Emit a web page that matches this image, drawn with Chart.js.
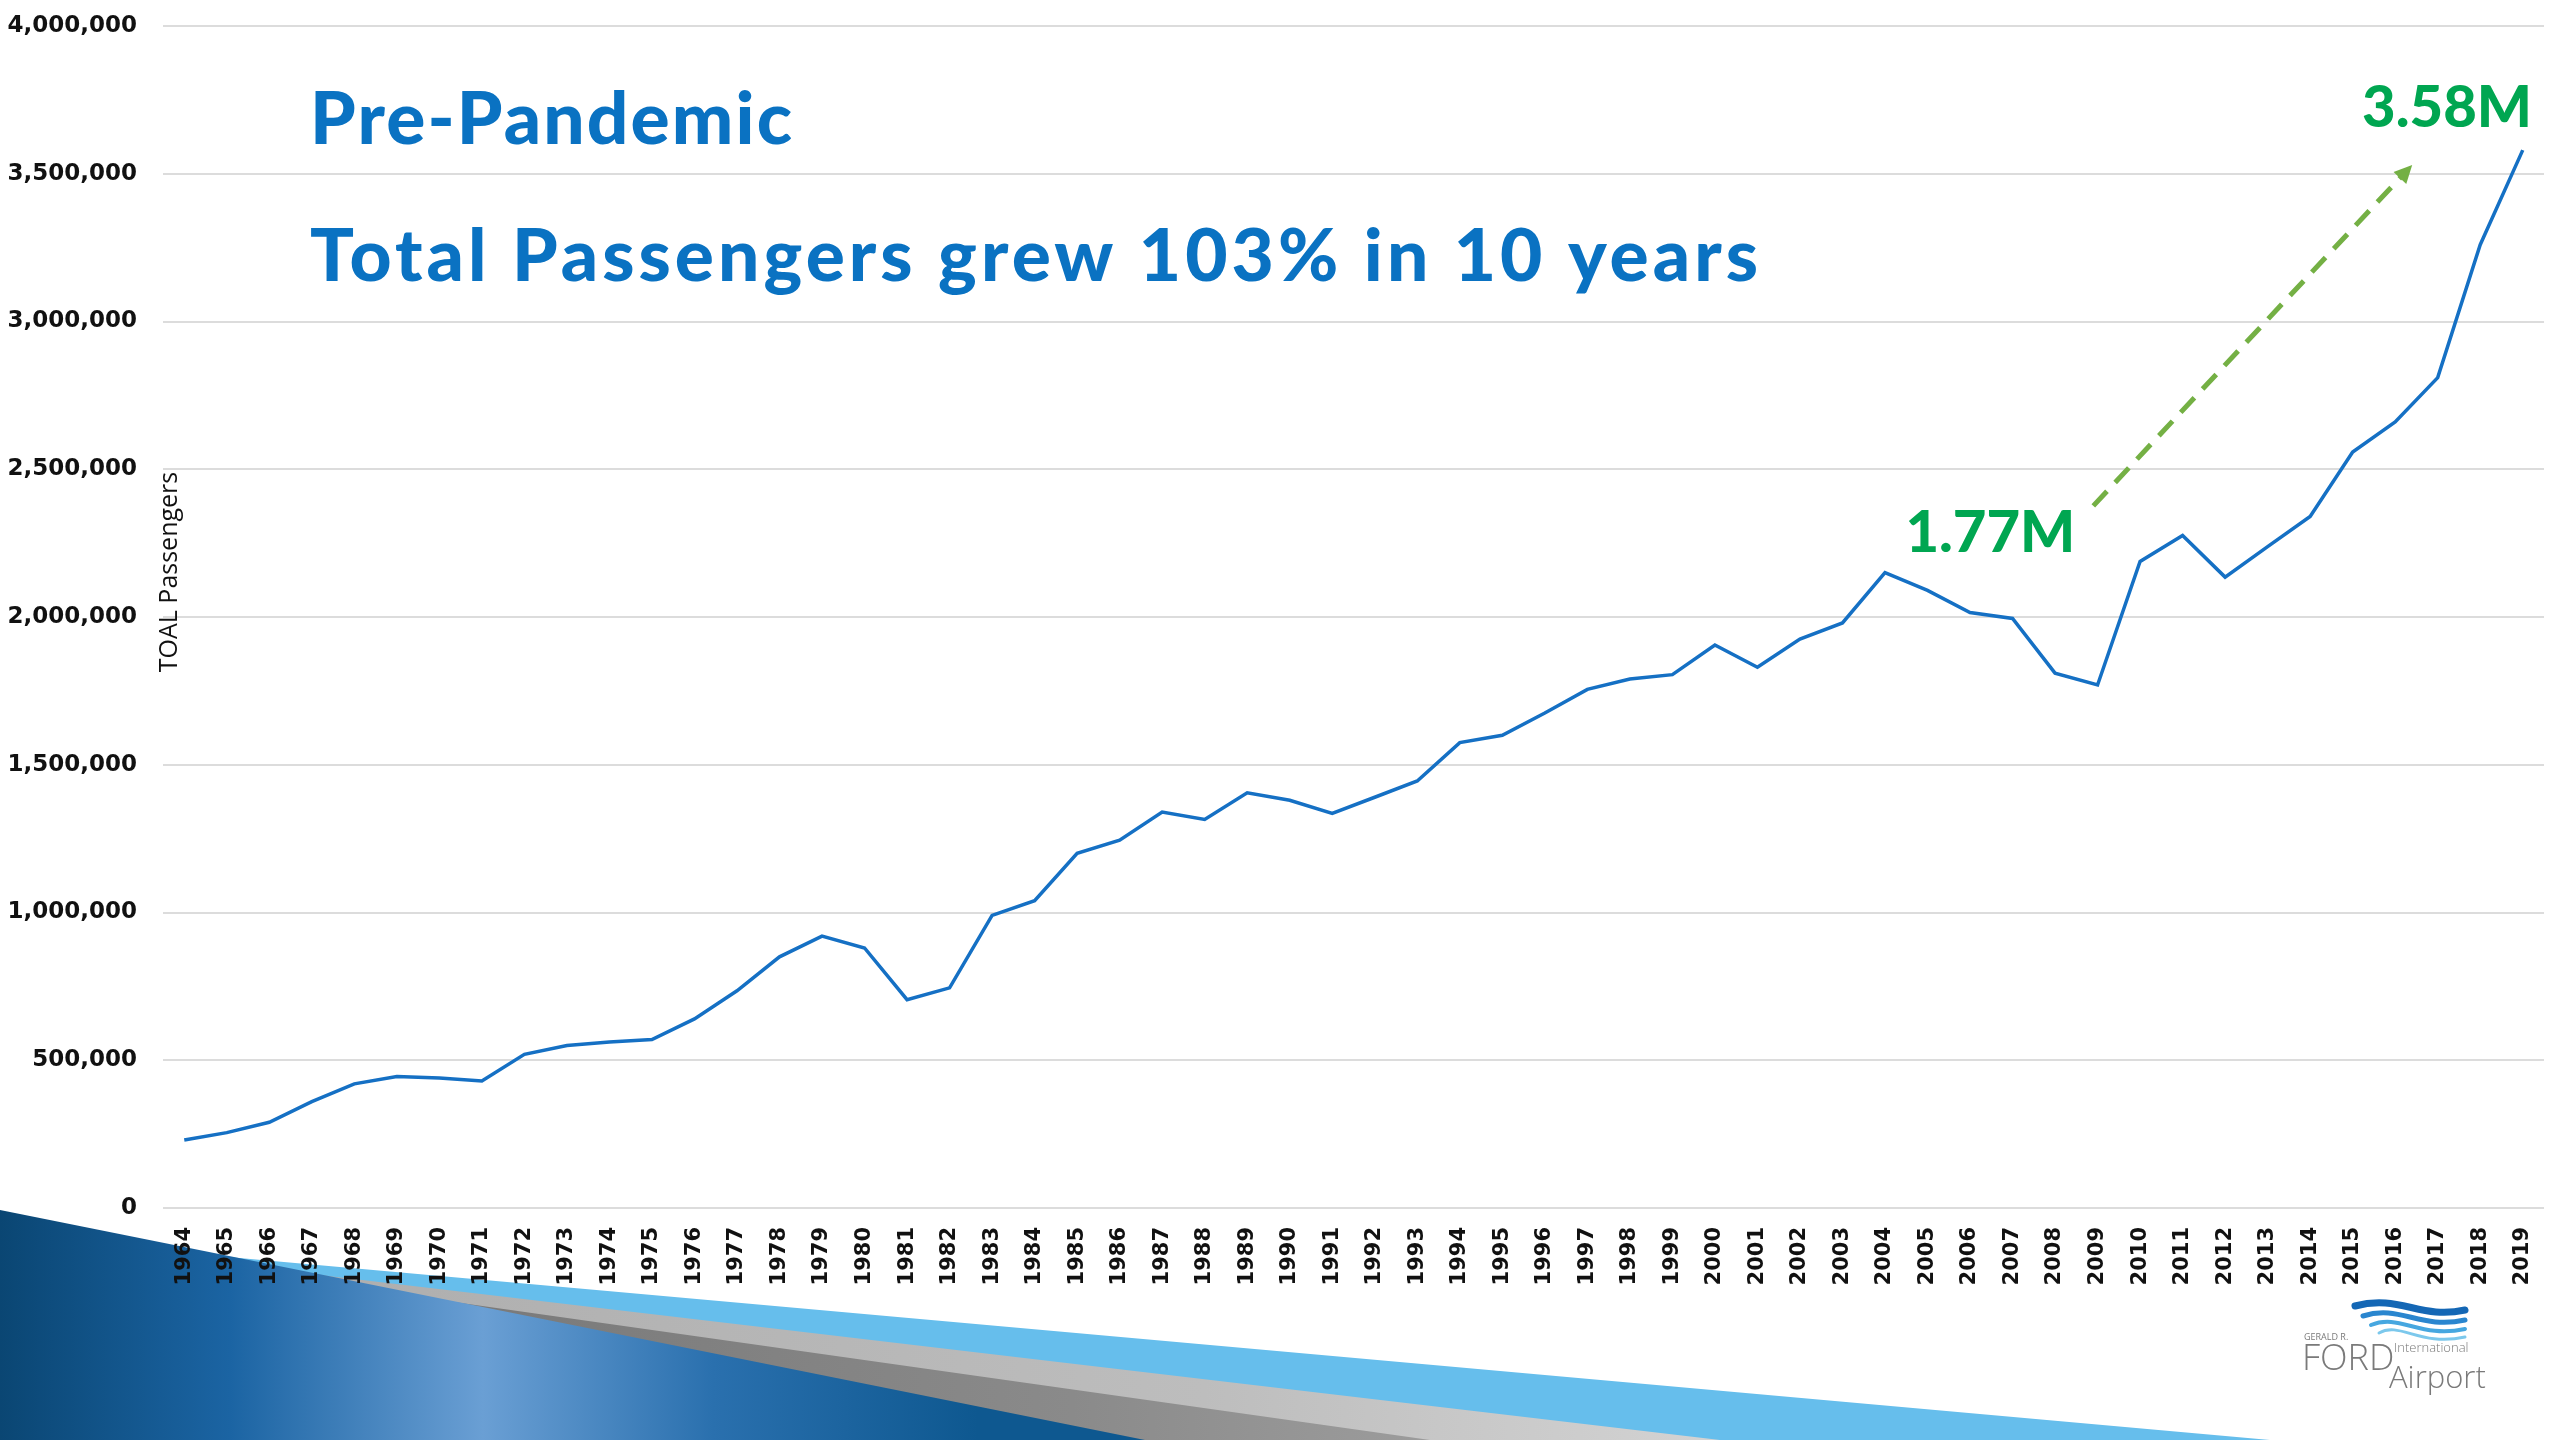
<!DOCTYPE html>
<html>
<head>
<meta charset="utf-8">
<script src="https://cdn.jsdelivr.net/npm/chart.js@4.4.0/dist/chart.umd.min.js"></script>
<style>
html,body{margin:0;padding:0;background:#fff;}
#wrap{width:2560px;height:1440px;position:relative;overflow:hidden;}
</style>
</head>
<body>
<div id="wrap"><canvas id="c" width="2560" height="1440"></canvas></div>
<script>
// ---------- data ----------
const years = ["1964","1965","1966","1967","1968","1969","1970","1971","1972","1973",
  "1974","1975","1976","1977","1978","1979","1980","1981","1982","1983",
  "1984","1985","1986","1987","1988","1989","1990","1991","1992","1993",
  "1994","1995","1996","1997","1998","1999","2000","2001","2002","2003",
  "2004","2005","2006","2007","2008","2009","2010","2011","2012","2013",
  "2014","2015","2016","2017","2018","2019"];
const passengers = [230000,255000,290000,360000,420000,445000,440000,430000,520000,550000,
  562000,570000,640000,735000,850000,920000,880000,705000,745000,990000,
  1040000,1200000,1245000,1340000,1315000,1405000,1380000,1335000,1390000,1445000,
  1575000,1600000,1675000,1755000,1790000,1805000,1905000,1830000,1925000,1980000,
  2150000,2090000,2015000,1995000,1810000,1770000,2188000,2276000,2135000,2238000,
  2340000,2558000,2660000,2810000,3260000,3580000];
const yTickValues = [0,500000,1000000,1500000,2000000,2500000,3000000,3500000,4000000];
const titleLines = ["Pre-Pandemic","Total Passengers grew 103% in 10 years"];
const yAxisTitle = "TOAL Passengers";
const startLabel = "1.77M";
const endLabel = "3.58M";
// arrow endpoints in data terms (year, passengers)
const arrowStart = [2008.9, 2376000];
const arrowEnd = [2016.4, 3530000];

// ---------- helpers ----------
function xPix(chart, year){
  const xs = chart.scales.x;
  const f = year - Number(years[0]);
  const i0 = Math.floor(f), i1 = Math.min(i0+1, years.length-1);
  const p0 = xs.getPixelForValue(i0), p1 = xs.getPixelForValue(i1);
  return p0 + (p1-p0)*(f-i0);
}
function fitText(ctx, text, x, y, targetW){
  const w = ctx.measureText(text).width;
  if ('letterSpacing' in ctx && text.length > 1){
    ctx.letterSpacing = ((targetW - w) / (text.length - 1)) + 'px';
    ctx.fillText(text, x, y);
    ctx.letterSpacing = '0px';
  } else {
    ctx.save(); ctx.translate(x, y); ctx.scale(targetW / w, 1);
    ctx.fillText(text, 0, 0); ctx.restore();
  }
}

const decor = {
  id:'decor',
  beforeDraw(chart){
    const ctx = chart.ctx;
    ctx.save();
    ctx.fillStyle = '#ffffff';
    ctx.fillRect(0,0,chart.width,chart.height);
    // light blue band
    ctx.fillStyle = '#66BEEC';
    ctx.beginPath();
    ctx.moveTo(150,1250); ctx.lineTo(2270,1440); ctx.lineTo(0,1440); ctx.lineTo(0,1238); ctx.closePath(); ctx.fill();
    // light gray band
    let g = ctx.createLinearGradient(0,0,1720,0);
    g.addColorStop(0,'#a9a9a9'); g.addColorStop(0.7,'#bdbdbd'); g.addColorStop(1,'#d3d3d3');
    ctx.fillStyle = g;
    ctx.beginPath();
    ctx.moveTo(150,1255); ctx.lineTo(1720,1440); ctx.lineTo(0,1440); ctx.lineTo(0,1243); ctx.closePath(); ctx.fill();
    // dark gray band
    g = ctx.createLinearGradient(0,0,1430,0);
    g.addColorStop(0,'#6d6d6d'); g.addColorStop(0.75,'#8a8a8a'); g.addColorStop(1,'#9c9c9c');
    ctx.fillStyle = g;
    ctx.beginPath();
    ctx.moveTo(150,1259); ctx.lineTo(1430,1440); ctx.lineTo(0,1440); ctx.lineTo(0,1248); ctx.closePath(); ctx.fill();
    // dark blue swoosh
    g = ctx.createLinearGradient(0,0,1150,0);
    g.addColorStop(0,'#0a4673');
    g.addColorStop(0.2,'#1b64a3');
    g.addColorStop(0.42,'#6a9fd4');
    g.addColorStop(0.62,'#2a70ae');
    g.addColorStop(0.85,'#0e5890');
    g.addColorStop(1,'#0e5890');
    ctx.fillStyle = g;
    ctx.beginPath();
    ctx.moveTo(0,1210); ctx.lineTo(1145,1440); ctx.lineTo(0,1440); ctx.closePath(); ctx.fill();

    // logo waves
    const waves = [
      ['#1467b5',7,1306],['#2a86cf',5,1316],['#46a7e0',4,1325],['#7cc8ec',3,1333]
    ];
    waves.forEach(([c,w,y],k)=>{
      ctx.strokeStyle=c; ctx.lineWidth=w; ctx.lineCap='round';
      ctx.beginPath();
      ctx.moveTo(2355+k*8,y);
      ctx.bezierCurveTo(2400,y-12,2420,y+14,2465,y+4);
      ctx.stroke();
    });
    ctx.fillStyle='#7a7a7a';
    ctx.font='9px "Open Sans"';
    ctx.textAlign='left'; ctx.textBaseline='alphabetic';
    ctx.fillText('GERALD R.',2304,1340);
    ctx.font='300 36px "Open Sans"';
    ctx.fillText('FORD',2302,1370);
    ctx.font='300 13px "Open Sans"';
    ctx.fillText('International',2394,1352);
    ctx.font='300 31px "Open Sans"';
    ctx.fillText('Airport',2389,1388);
    ctx.restore();
  }
};

const overlay = {
  id:'overlay',
  afterDraw(chart){
    const ctx = chart.ctx, ys = chart.scales.y, ca = chart.chartArea;
    ctx.save();
    // headline text
    ctx.fillStyle = '#0A72C2';
    ctx.textAlign='left'; ctx.textBaseline='alphabetic';
    ctx.font = '900 73px Lato';
    fitText(ctx, titleLines[0], 310, 144, 482);
    fitText(ctx, titleLines[1], 310, 281, 1448);

    // y axis title
    ctx.save();
    ctx.translate(ca.left+14, 572);
    ctx.rotate(-Math.PI/2);
    ctx.fillStyle='#111';
    ctx.font='25px "Open Sans"';
    ctx.textAlign='center'; ctx.textBaseline='alphabetic';
    ctx.fillText(yAxisTitle,0,0);
    ctx.restore();

    // dashed arrow
    const x1 = xPix(chart, arrowStart[0]), y1 = ys.getPixelForValue(arrowStart[1]);
    const x2 = xPix(chart, arrowEnd[0]), y2 = ys.getPixelForValue(arrowEnd[1]);
    const ang = Math.atan2(y2-y1, x2-x1);
    const headLen = 20;
    ctx.strokeStyle='#74B044'; ctx.lineWidth=5; ctx.setLineDash([20,12]);
    ctx.beginPath(); ctx.moveTo(x1,y1);
    ctx.lineTo(x2-Math.cos(ang)*headLen*0.8, y2-Math.sin(ang)*headLen*0.8); ctx.stroke();
    ctx.setLineDash([]);
    ctx.fillStyle='#74B044';
    ctx.beginPath();
    ctx.moveTo(x2,y2);
    ctx.lineTo(x2-headLen*Math.cos(ang-0.45), y2-headLen*Math.sin(ang-0.45));
    ctx.lineTo(x2-headLen*Math.cos(ang+0.45), y2-headLen*Math.sin(ang+0.45));
    ctx.closePath(); ctx.fill();

    // value labels
    ctx.fillStyle='#00A651';
    ctx.font='900 58px Lato';
    ctx.textAlign='right';
    ctx.fillText(endLabel, ca.right-12, ys.getPixelForValue(passengers[passengers.length-1]) - 23);
    ctx.fillText(startLabel, x1-18, y1+46);
    ctx.restore();
  }
};

new Chart(document.getElementById('c'), {
  type:'line',
  data:{
    labels: years,
    datasets:[{
      data: passengers,
      borderColor:'#1570C4',
      borderWidth:3.5,
      pointRadius:0,
      tension:0,
      fill:false
    }]
  },
  options:{
    responsive:false,
    animation:false,
    devicePixelRatio:1,
    layout:{padding:{left:0,top:26,right:16,bottom:0}},
    plugins:{legend:{display:false},tooltip:{enabled:false},title:{display:false}},
    scales:{
      x:{
        offset:true,
        grid:{display:false,drawTicks:false},
        border:{display:false},
        ticks:{autoSkip:false,minRotation:90,maxRotation:90,padding:19,color:'#111',
          font:{family:'"DejaVu Sans"',weight:'bold',size:21}},
        afterFit(s){ s.height = 232; s.paddingLeft = 0; s.paddingRight = 0; s.paddingTop = 0; s.paddingBottom = 0; }
      },
      y:{
        min:0,max:4000000,
        grid:{color:'#DCDCDC',lineWidth:2,drawTicks:false},
        border:{display:false},
        afterBuildTicks(s){ s.ticks = yTickValues.map(v=>({value:v})); },
        ticks:{padding:26,color:'#111',
          font:{family:'"DejaVu Sans"',weight:'bold',size:23},
          callback:v=>Number(v).toLocaleString('en-US')},
        afterFit(s){ s.width = 163; s.paddingTop = 0; s.paddingBottom = 0; s.paddingLeft = 0; s.paddingRight = 0; }
      }
    }
  },
  plugins:[decor,overlay]
});
</script>
</body>
</html>
